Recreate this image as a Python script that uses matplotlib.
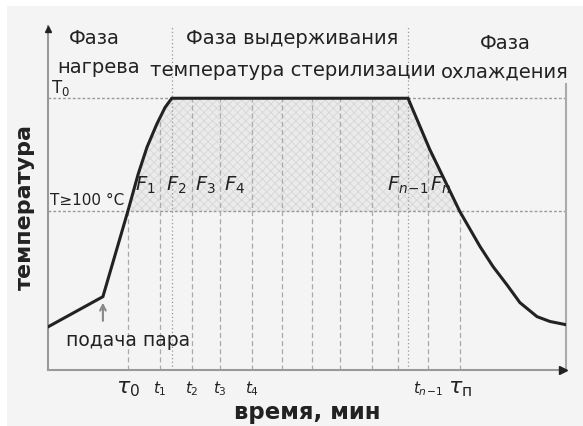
import numpy as np
import matplotlib.pyplot as plt

# кривая температуры (время в усл. ед., температура в °C)
curve_t = [0, 10.6, 15.4, 17.4, 19.1, 21.0, 22.6, 23.9, 69.5, 73.7, 79.5,
           83.4, 85.9, 88.6, 91.1, 94.4, 96.9, 100]
curve_T = [78.6, 84.2, 100, 106.9, 111.9, 116.2, 119.3, 121, 121, 111.5, 100,
           93.5, 89.8, 86.4, 83.1, 80.5, 79.6, 79.0]

T0 = 121
T100 = 100
tau0, taun = 15.4, 79.5
phase_bounds = [23.9, 69.5]
# моменты t_i (штриховые линии)
t_marks = [15.4, 21.6, 27.8, 33.2, 39.4, 45.2, 51.0, 56.4, 62.5, 67.6, 73.4, 79.5]
tick_pos = [15.4, 21.6, 27.8, 33.2, 39.4, 73.4, 79.5]
tick_lab = [r'$\tau_{\mathrm{0}}$', r'$t_1$', r'$t_2$', r'$t_3$', r'$t_4$',
            r'$t_{n\!-\!1}$', r'$\tau_{\mathrm{п}}$']
F_pos = [18.7, 24.7, 30.3, 36.1, 69.5, 75.7]
F_lab = [r'$F_1$', r'$F_2$', r'$F_3$', r'$F_4$', r'$F_{n\!-\!1}$', r'$F_n$']
steam_t, steam_T = 10.6, 84.2

plt.rcParams['hatch.linewidth'] = 0.6
bg = '#f4f4f4'
fig = plt.figure(figsize=(5.83, 4.27), dpi=100, facecolor=bg)
# белые полосы сверху и слева
fig.patches.append(plt.Rectangle((0, 1 - 7/427), 1, 7/427, transform=fig.transFigure,
                                 facecolor='white', edgecolor='none', zorder=-10))
fig.patches.append(plt.Rectangle((0, 0), 7/583, 1, transform=fig.transFigure,
                                 facecolor='white', edgecolor='none', zorder=-10))
ax = fig.add_axes([48/583, 1 - 371/427, 518/583, 344/427])
ax.set_facecolor('none')
xmin, xmax = 0, 100
ymin, ymax = 70.6, 134.4
ax.set_xlim(xmin, xmax)
ax.set_ylim(ymin, ymax)

# заливка под кривой выше 100 °C
xf = np.linspace(tau0, taun, 300)
yf = np.interp(xf, curve_t, curve_T)
ax.fill_between(xf, T100, yf, facecolor='#ebebeb', hatch='xxxx',
                edgecolor='#d6d6d6', linewidth=0, zorder=1)

ax.axhline(T0, color='#999999', ls=(0, (2, 1.5)), lw=1, zorder=2)
ax.axhline(T100, color='#999999', ls=(0, (2, 1.5)), lw=1, zorder=2)
for t in t_marks:
    ax.plot([t, t], [ymin, np.interp(t, curve_t, curve_T)], color='#aaaaaa',
            ls=(0, (4, 2.5)), lw=0.9, zorder=2)
for t in phase_bounds:
    ax.plot([t, t], [ymin, ymax], color='#999999', ls=(0, (1, 2)), lw=0.9, zorder=2)
ax.plot([xmax, xmax], [ymin, 123.6], color='#aaaaaa', lw=1.5, clip_on=False)

ax.plot(curve_t, curve_T, color='#222222', lw=2.2, zorder=4, solid_joinstyle='miter')

for s in ['top', 'right']:
    ax.spines[s].set_visible(False)
ax.spines['left'].set_color('#999999')
ax.spines['bottom'].set_color('#999999')
ax.spines['left'].set_linewidth(1.5)
ax.spines['bottom'].set_linewidth(1.5)
ax.plot(xmin, ymax - 0.5, marker='^', color='#222222', ms=5, clip_on=False, zorder=5)
ax.plot(xmax - 0.6, ymin, marker='>', color='#222222', ms=6, clip_on=False, zorder=5)

ax.set_yticks([])
ax.set_xticks(tick_pos)
ax.set_xticklabels(tick_lab)
ax.tick_params(axis='x', length=0, pad=6, labelsize=11, colors='#222222')
for lab in ax.get_xticklabels():
    if 'tau' in lab.get_text():
        lab.set_fontsize(16)

# подписи
tc = '#222222'
fs = 14
ax.text(8.9, 132.3, 'Фаза', fontsize=fs, ha='center', va='center', color=tc)
ax.text(9.7, 126.9, 'нагрева', fontsize=fs, ha='center', va='center', color=tc)
ax.text(47.1, 132.3, 'Фаза выдерживания', fontsize=fs, ha='center', va='center', color=tc)
ax.text(47.3, 126.4, 'температура стерилизации', fontsize=fs, ha='center', va='center', color=tc)
ax.text(88.2, 131.4, 'Фаза', fontsize=fs, ha='center', va='center', color=tc)
ax.text(88.2, 126.0, 'охлаждения', fontsize=fs, ha='center', va='center', color=tc)
ax.text(0.6, 123.0, r'T$_\mathregular{0}$', fontsize=12, ha='left', va='center', color=tc)
ax.text(0.4, 102.2, 'T≥100 °C', fontsize=11, ha='left', va='center', color=tc)
for x, s in zip(F_pos, F_lab):
    ax.text(x, 105.0, s, fontsize=14, ha='center', va='center', color=tc, zorder=6)

ax.annotate('', xy=(steam_t, steam_T - 0.6), xytext=(steam_t, steam_T - 5),
            arrowprops=dict(arrowstyle='->', color='#888888', lw=1.5))
ax.text(15.4, 76.2, 'подача пара', fontsize=13.5, ha='center', va='center', color=tc)

fig.text(25/583, 1 - 207/427, 'температура', rotation=90, fontsize=16,
         fontweight='bold', ha='center', va='center', color=tc)
fig.text(307/583, 1 - 413/427, 'время, мин', fontsize=16.5, fontweight='bold',
         ha='center', va='center', color=tc)

fig.savefig('out.png', dpi=100, facecolor=fig.get_facecolor())
